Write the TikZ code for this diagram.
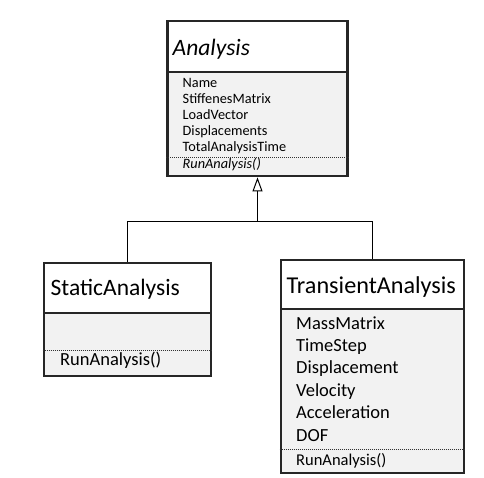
\documentclass[tikz,border=0pt]{standalone}
\usepackage{fontspec}
\setmainfont{Carlito}
\usetikzlibrary{arrows.meta,positioning,calc}

\begin{document}
\begin{tikzpicture}[x=1pt, y=-1pt,
    classhead/.style={rectangle, draw=black!85, line width=2.8pt, fill=white, inner sep=0pt},
    classbody/.style={rectangle, draw=black!85, line width=2.8pt, fill=black!5, inner sep=0pt},
    sep/.style={black!80, line width=0.6pt, dash pattern=on 1pt off 1pt},
    conn/.style={black, line width=1pt}]
\useasboundingbox (0,0) rectangle (484,477);

% 基类 Analysis
\node[classhead, minimum width=180pt, minimum height=51pt] (ahead) at (257.5,46.5) {};
\node[classbody, minimum width=180pt, minimum height=104pt] (abody) at (257.5,124) {};
\node[anchor=base west, inner sep=0pt] (aname) at (172.5,55) {\fontsize{23.5}{28}\selectfont\itshape Analysis};
\foreach \attr [count=\i] in {Name,StiffenesMatrix,LoadVector,Displacements,TotalAnalysisTime}
    \node[anchor=base west, inner sep=0pt] (aattr\i) at (182.5,{71+16*\i}) {\fontsize{14.3}{16}\selectfont \attr};
\draw[sep] (abody.west |- 0,157) -- (abody.east |- 0,157);
\node[anchor=base west, inner sep=0pt] (arun) at (182.5,168.5) {\fontsize{14.3}{16}\selectfont\itshape RunAnalysis()};

% 子类 StaticAnalysis
\node[classhead, minimum width=167pt, minimum height=50pt] (shead) at (127.5,288) {};
\node[classbody, minimum width=167pt, minimum height=63pt] (sbody) at (127.5,344.5) {};
\node[anchor=base west, inner sep=0pt] (sname) at (50.5,295) {\fontsize{23.5}{28}\selectfont StaticAnalysis};
\draw[sep] (sbody.west |- 0,350) -- (sbody.east |- 0,350);
\node[anchor=base west, inner sep=0pt] (srun) at (60,365) {\fontsize{18.5}{22}\selectfont RunAnalysis()};

% 子类 TransientAnalysis
\node[classhead, minimum width=183pt, minimum height=49pt] (thead) at (372.5,284.5) {};
\node[classbody, minimum width=183pt, minimum height=164pt] (tbody) at (372.5,391) {};
\node[anchor=base west, inner sep=0pt] (tname) at (286.5,293) {\fontsize{24.2}{28}\selectfont TransientAnalysis};
\foreach \attr [count=\i] in {MassMatrix,TimeStep,Displacement,Velocity,Acceleration,DOF}
    \node[anchor=base west, inner sep=0pt] (tattr\i) at (296,{306.6+22.4*\i}) {\fontsize{18.5}{22}\selectfont \attr};
\draw[sep] (tbody.west |- 0,449) -- (tbody.east |- 0,449);
\node[anchor=base west, inner sep=0pt] (trun) at (296,465) {\fontsize{16.5}{19}\selectfont RunAnalysis()};

% 继承关系
\coordinate (split) at (257.5,221.5);
\draw[conn] (shead.north) |- (split) -| (thead.north);
\draw[conn, -{Triangle[open, width=10pt, length=14pt]}] (split) -- (abody.south);
\end{tikzpicture}
\end{document}
